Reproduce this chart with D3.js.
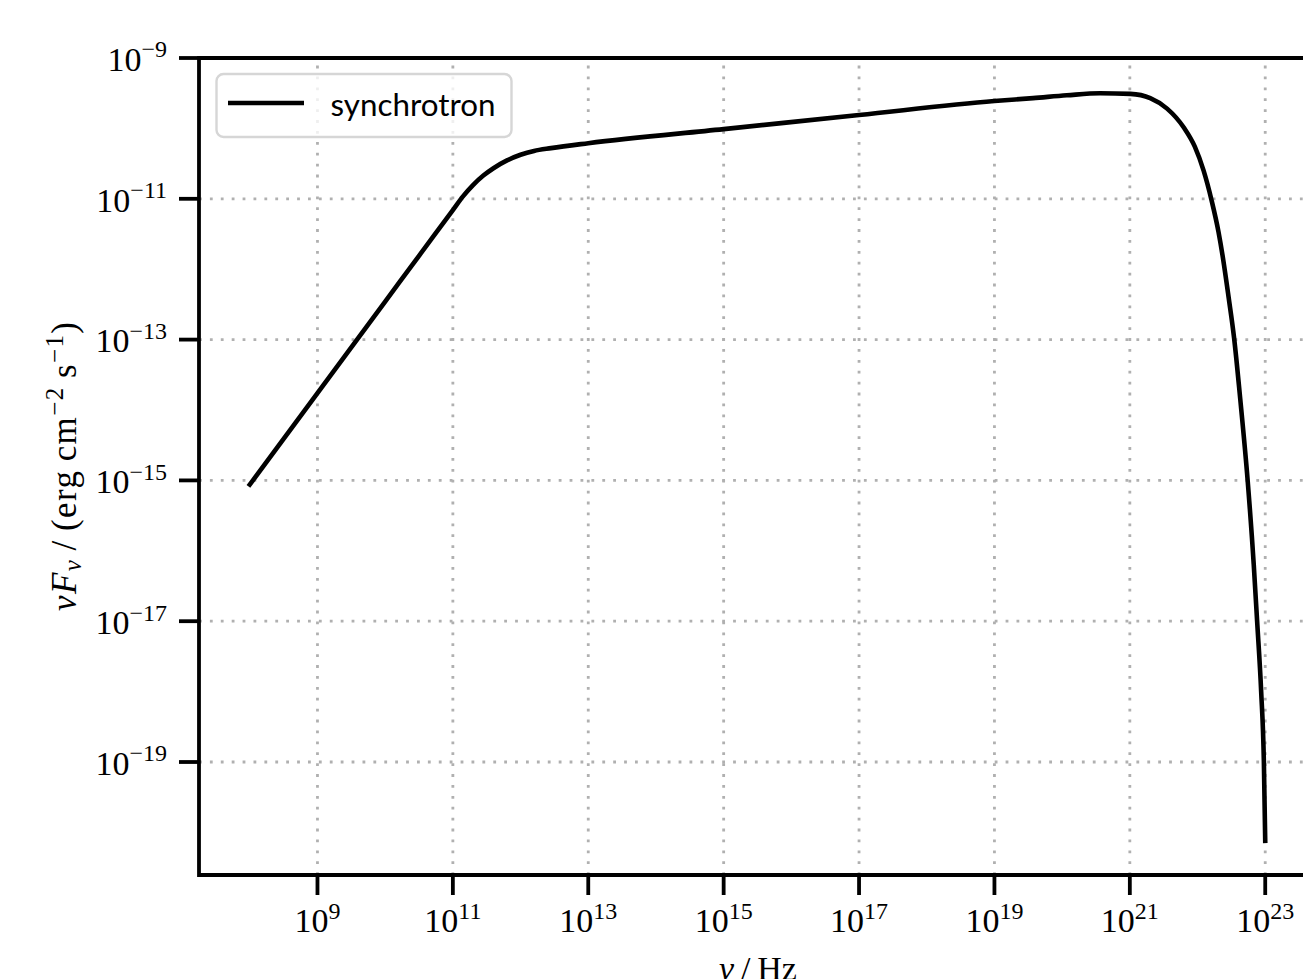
<!DOCTYPE html>
<html>
<head>
<meta charset="utf-8">
<script src="https://cdn.jsdelivr.net/npm/d3@7"></script>
<style>
  html, body { margin: 0; padding: 0; background: #ffffff; overflow: hidden; }
  svg { display: block; }
</style>
</head>
<body>
<div id="chart"></div>
<script>
// Synchrotron spectral energy distribution, nu F_nu versus nu
const frequency = [
  1.0e8, 1.0e9, 1.0e10, 3.16e10, 1.0e11, 1.41e11, 2.0e11, 2.82e11, 3.98e11,
  6.31e11, 1.0e12, 1.58e12, 2.82e12, 1.0e13, 1.0e15, 1.0e17, 1.0e19, 3.72e19,
  1.17e20, 3.63e20, 1.02e21, 2.00e21, 3.55e21, 6.31e21, 9.12e21, 1.23e22,
  1.62e22, 2.04e22, 2.40e22, 2.88e22, 3.47e22, 4.27e22, 5.50e22, 6.76e22,
  7.59e22, 8.71e22, 9.55e22, 1.0e23
];
const synchrotronFlux = [
  8.71e-16, 1.74e-14, 3.47e-13, 1.55e-12, 6.92e-12, 1.084e-11, 1.58e-11, 2.14e-11, 2.72e-11,
  3.51e-11, 4.22e-11, 4.79e-11, 5.25e-11, 6.17e-11, 9.77e-11, 1.55e-10, 2.45e-10, 2.69e-10,
  2.95e-10, 3.16e-10, 3.09e-10, 2.69e-10, 1.91e-10, 1.02e-10, 5.50e-11, 2.51e-11,
  9.33e-12, 3.39e-12, 1.35e-12, 3.98e-13, 1.05e-13, 1.45e-14, 1.0e-15, 6.46e-17,
  1.0e-17, 1.0e-18, 1.0e-19, 7.59e-21
];
const seriesName = "synchrotron";

// Decade tick positions (every second decade is labelled)
const xTickExponents = [9, 11, 13, 15, 17, 19, 21, 23];
const yTickExponents = [-9, -11, -13, -15, -17, -19];

// Axis limits
const xDomain = [Math.pow(10, 7.25), Math.pow(10, 23.75)];
const yDomain = [1e-9, Math.pow(10, -20.605)];

const W = 1303, H = 979;
const plot = { left: 199, top: 58, right: 1316, bottom: 875 };

const svg = d3.select("#chart").append("svg")
  .attr("width", W).attr("height", H)
  .attr("viewBox", `0 0 ${W} ${H}`);

svg.append("rect").attr("width", W).attr("height", H).attr("fill", "#ffffff");

const x = d3.scaleLog().domain(xDomain).range([plot.left, plot.right]);
const y = d3.scaleLog().domain(yDomain).range([plot.top, plot.bottom]);

const serif = "'Liberation Serif', 'Times New Roman', serif";
const sans = "Lato, 'Open Sans', 'DejaVu Sans', sans-serif";

svg.append("defs").append("clipPath").attr("id", "plot-clip")
  .append("rect")
  .attr("x", plot.left).attr("y", plot.top)
  .attr("width", plot.right - plot.left).attr("height", plot.bottom - plot.top);

// Dotted grid
const grid = svg.append("g")
  .attr("clip-path", "url(#plot-clip)")
  .attr("stroke", "#b0b0b0")
  .attr("stroke-width", 2.8)
  .attr("stroke-dasharray", "2.8 8.1")
  .attr("fill", "none");

grid.selectAll("line.vgrid")
  .data(xTickExponents)
  .join("line")
  .attr("class", "vgrid")
  .attr("x1", d => x(Math.pow(10, d))).attr("x2", d => x(Math.pow(10, d)))
  .attr("y1", plot.bottom).attr("y2", plot.top);

grid.selectAll("line.hgrid")
  .data(yTickExponents)
  .join("line")
  .attr("class", "hgrid")
  .attr("x1", plot.left).attr("x2", plot.right)
  .attr("y1", d => y(Math.pow(10, d))).attr("y2", d => y(Math.pow(10, d)));

// Spectrum
const points = frequency.map((f, i) => [f, synchrotronFlux[i]]);
const line = d3.line()
  .x(d => x(d[0]))
  .y(d => y(d[1]))
  .curve(d3.curveMonotoneX);

svg.append("path")
  .datum(points)
  .attr("clip-path", "url(#plot-clip)")
  .attr("d", line)
  .attr("fill", "none")
  .attr("stroke", "#000000")
  .attr("stroke-width", 4.6)
  .attr("stroke-linejoin", "round")
  .attr("stroke-linecap", "square");

// Frame
const frame = svg.append("g").attr("stroke", "#000000").attr("stroke-width", 3.8).attr("fill", "none");
frame.append("path")
  .attr("d", `M${plot.right},${plot.top} H${plot.left} V${plot.bottom} H${plot.right} Z`)
  .attr("stroke-linejoin", "miter");

// Ticks
const tickLen = 20;
frame.selectAll("line.xtick")
  .data(xTickExponents)
  .join("line")
  .attr("class", "xtick")
  .attr("x1", d => x(Math.pow(10, d))).attr("x2", d => x(Math.pow(10, d)))
  .attr("y1", plot.bottom).attr("y2", plot.bottom + tickLen);

frame.selectAll("line.ytick")
  .data(yTickExponents)
  .join("line")
  .attr("class", "ytick")
  .attr("x1", plot.left - tickLen).attr("x2", plot.left)
  .attr("y1", d => y(Math.pow(10, d))).attr("y2", d => y(Math.pow(10, d)));

// Tick labels: 10^n
function powerLabel(sel, exp) {
  sel.append("tspan").text("10");
  sel.append("tspan")
    .attr("dy", -13.5)
    .attr("font-size", 24)
    .text(exp < 0 ? "\u2212" + Math.abs(exp) : String(exp));
}

svg.append("g").selectAll("text")
  .data(xTickExponents)
  .join("text")
  .attr("x", d => x(Math.pow(10, d)))
  .attr("y", 932)
  .attr("text-anchor", "middle")
  .attr("font-family", serif)
  .attr("font-size", 34)
  .attr("fill", "#000")
  .each(function(d) { powerLabel(d3.select(this), d); });

svg.append("g").selectAll("text")
  .data(yTickExponents)
  .join("text")
  .attr("x", 167)
  .attr("y", d => y(Math.pow(10, d)) + 12.8)
  .attr("text-anchor", "end")
  .attr("font-family", serif)
  .attr("font-size", 34)
  .attr("fill", "#000")
  .each(function(d) { powerLabel(d3.select(this), d); });

// Axis titles
const xTitle = svg.append("text")
  .attr("x", 758)
  .attr("y", 980)
  .attr("text-anchor", "middle")
  .attr("font-family", serif)
  .attr("font-size", 34)
  .attr("fill", "#000");
xTitle.append("tspan").attr("font-style", "italic").text("\u03BD");
xTitle.append("tspan").text("\u2009/\u2009Hz");

const yTitle = svg.append("text")
  .attr("transform", `translate(76,${(plot.top + plot.bottom) / 2}) rotate(-90)`)
  .attr("text-anchor", "middle")
  .attr("font-family", serif)
  .attr("font-size", 35)
  .attr("fill", "#000");
yTitle.append("tspan").attr("font-style", "italic").text("\u03BDF");
yTitle.append("tspan").attr("font-style", "italic").attr("font-size", 25).attr("dy", 5).text("\u03BD");
yTitle.append("tspan").attr("dy", -5).text("\u2009/\u2009(erg\u2009cm");
yTitle.append("tspan").attr("font-size", 25).attr("dy", -13.5).text("\u22122");
yTitle.append("tspan").attr("dy", 13.5).text("\u2009s");
yTitle.append("tspan").attr("font-size", 25).attr("dy", -13.5).text("\u22121");
yTitle.append("tspan").attr("dy", 13.5).text(")");
yTitle.attr("textLength", 289).attr("lengthAdjust", "spacing");

// Legend
const legend = svg.append("g");
legend.append("rect")
  .attr("x", 216.5).attr("y", 74)
  .attr("width", 295).attr("height", 63)
  .attr("rx", 7).attr("ry", 7)
  .attr("fill", "#ffffff").attr("fill-opacity", 0.8)
  .attr("stroke", "#d6d6d6").attr("stroke-width", 2.4);
legend.append("line")
  .attr("x1", 228).attr("x2", 304)
  .attr("y1", 103).attr("y2", 103)
  .attr("stroke", "#000").attr("stroke-width", 4.6)
  .attr("stroke-linecap", "butt");
const legendText = legend.append("text")
  .attr("x", 330.5).attr("y", 116.4)
  .attr("font-family", sans)
  .attr("font-size", 34)
  .attr("fill", "#000")
  .text(seriesName);
// fit the label to the legend's text column
const targetWidth = 165;
const measured = legendText.node().getComputedTextLength();
if (measured > 0) legendText.attr("font-size", 34 * Math.min(1.1, targetWidth / measured));
</script>
</body>
</html>
